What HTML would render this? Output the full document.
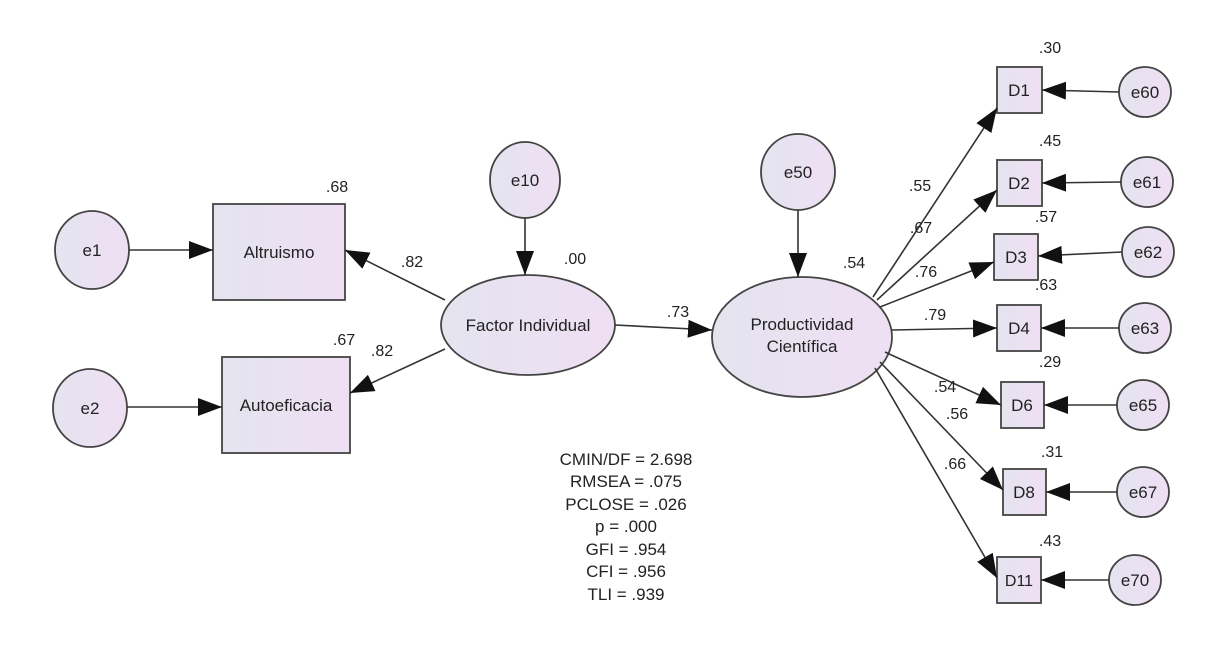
<!DOCTYPE html>
<html><head><meta charset="utf-8"><style>
html,body{margin:0;padding:0;background:#fff;}
svg{display:block;}
text{font-family:"Liberation Sans",Arial,sans-serif;fill:#222;}
</style></head><body>
<svg width="1215" height="653" viewBox="0 0 1215 653" xmlns="http://www.w3.org/2000/svg">
<defs>
<linearGradient id="g" x1="0" y1="0" x2="1" y2="0">
<stop offset="0" stop-color="#e4e4ef"/><stop offset="1" stop-color="#efdff3"/>
</linearGradient>
<marker id="a" viewBox="0 0 24 18" refX="24" refY="9" markerWidth="24" markerHeight="18" markerUnits="userSpaceOnUse" orient="auto">
<path d="M0,0 L24,9 L0,18 z" fill="#111"/>
</marker>
</defs>
<g stroke="#444" stroke-width="1.8" fill="url(#g)">
<ellipse cx="92" cy="250" rx="37" ry="39"/>
<ellipse cx="90" cy="408" rx="37" ry="39"/>
<rect x="213" y="204" width="132" height="96"/>
<rect x="222" y="357" width="128" height="96"/>
<ellipse cx="525" cy="180" rx="35" ry="38"/>
<ellipse cx="528" cy="325" rx="87" ry="50"/>
<ellipse cx="798" cy="172" rx="37" ry="38"/>
<ellipse cx="802" cy="337" rx="90" ry="60"/>
<rect x="997" y="67" width="45" height="46"/>
<rect x="997" y="160" width="45" height="46"/>
<rect x="994" y="234" width="44" height="46"/>
<rect x="997" y="305" width="44" height="46"/>
<rect x="1001" y="382" width="43" height="46"/>
<rect x="1003" y="469" width="43" height="46"/>
<rect x="997" y="557" width="44" height="46"/>
<ellipse cx="1145" cy="92" rx="26" ry="25"/>
<ellipse cx="1147" cy="182" rx="26" ry="25"/>
<ellipse cx="1148" cy="252" rx="26" ry="25"/>
<ellipse cx="1145" cy="328" rx="26" ry="25"/>
<ellipse cx="1143" cy="405" rx="26" ry="25"/>
<ellipse cx="1143" cy="492" rx="26" ry="25"/>
<ellipse cx="1135" cy="580" rx="26" ry="25"/>
</g>
<g stroke="#333" stroke-width="1.6" marker-end="url(#a)">
<line x1="129" y1="250" x2="213" y2="250"/>
<line x1="127" y1="407" x2="222" y2="407"/>
<line x1="525" y1="218" x2="525" y2="275"/>
<line x1="445" y1="300" x2="345" y2="250"/>
<line x1="445" y1="349" x2="350" y2="393"/>
<line x1="615" y1="325" x2="712" y2="330"/>
<line x1="798" y1="210" x2="798" y2="277"/>
<line x1="873" y1="297" x2="997" y2="108"/>
<line x1="877" y1="300" x2="997" y2="190"/>
<line x1="880" y1="307" x2="994" y2="262"/>
<line x1="892" y1="330" x2="997" y2="328"/>
<line x1="885" y1="352" x2="1001" y2="405"/>
<line x1="880" y1="362" x2="1003" y2="490"/>
<line x1="875" y1="368" x2="997" y2="578"/>
<line x1="1119" y1="92" x2="1042" y2="90"/>
<line x1="1121" y1="182" x2="1042" y2="183"/>
<line x1="1122" y1="252" x2="1038" y2="256"/>
<line x1="1119" y1="328" x2="1041" y2="328"/>
<line x1="1117" y1="405" x2="1044" y2="405"/>
<line x1="1117" y1="492" x2="1046" y2="492"/>
<line x1="1109" y1="580" x2="1041" y2="580"/>
</g>
<g font-size="17" text-anchor="middle">
<text x="92" y="256">e1</text>
<text x="90" y="414">e2</text>
<text x="279" y="258">Altruismo</text>
<text x="286" y="411">Autoeficacia</text>
<text x="525" y="186">e10</text>
<text x="528" y="331">Factor Individual</text>
<text x="798" y="178">e50</text>
<text x="802" y="330">Productividad</text>
<text x="802" y="352">Científica</text>
<text x="1019" y="96">D1</text>
<text x="1019" y="189">D2</text>
<text x="1016" y="263">D3</text>
<text x="1019" y="334">D4</text>
<text x="1022" y="411">D6</text>
<text x="1024" y="498">D8</text>
<text x="1019" y="586" font-size="16">D11</text>
<text x="1145" y="98">e60</text>
<text x="1147" y="188">e61</text>
<text x="1148" y="258">e62</text>
<text x="1145" y="334">e63</text>
<text x="1143" y="411">e65</text>
<text x="1143" y="498">e67</text>
<text x="1135" y="586">e70</text>
</g>
<g font-size="16" text-anchor="middle">
<text x="337" y="192">.68</text>
<text x="412" y="267">.82</text>
<text x="575" y="264">.00</text>
<text x="344" y="345">.67</text>
<text x="382" y="356">.82</text>
<text x="678" y="317">.73</text>
<text x="854" y="268">.54</text>
<text x="920" y="191">.55</text>
<text x="921" y="233">.67</text>
<text x="926" y="277">.76</text>
<text x="935" y="320">.79</text>
<text x="945" y="392">.54</text>
<text x="957" y="419">.56</text>
<text x="955" y="469">.66</text>
<text x="1050" y="53">.30</text>
<text x="1050" y="146">.45</text>
<text x="1046" y="222">.57</text>
<text x="1046" y="290">.63</text>
<text x="1050" y="367">.29</text>
<text x="1052" y="457">.31</text>
<text x="1050" y="546">.43</text>
</g>
<g font-size="17" text-anchor="middle">
<text x="626" y="465">CMIN/DF = 2.698</text>
<text x="626" y="487">RMSEA = .075</text>
<text x="626" y="510">PCLOSE = .026</text>
<text x="626" y="532">p = .000</text>
<text x="626" y="555">GFI = .954</text>
<text x="626" y="577">CFI = .956</text>
<text x="626" y="600">TLI = .939</text>
</g>
</svg>
</body></html>
